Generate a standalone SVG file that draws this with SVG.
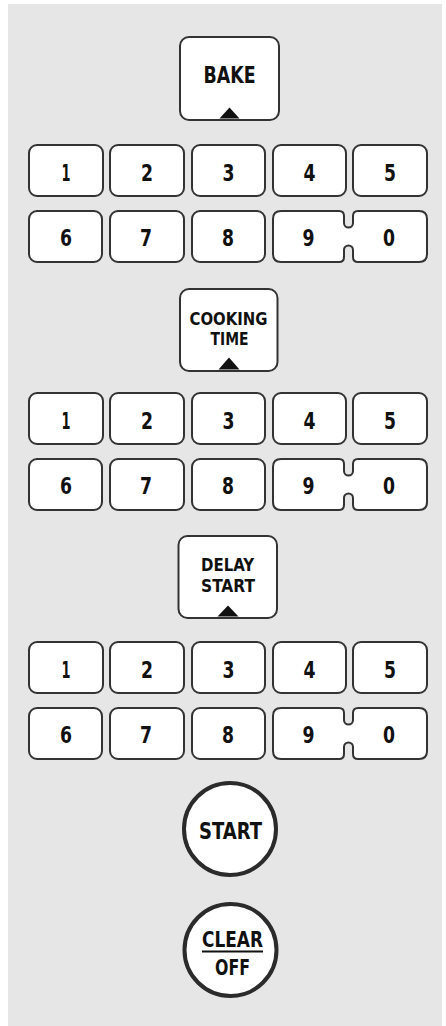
<svg xmlns="http://www.w3.org/2000/svg" xmlns:xlink="http://www.w3.org/1999/xlink" width="446" height="1026" viewBox="0 0 446 1026">
<style>
.bg{fill:#e6e6e6}
.key{fill:#fff;stroke:#333;stroke-width:2}
.fn{fill:#fff;stroke:#333;stroke-width:2}
.round{fill:#fff;stroke:#2b2b2b;stroke-width:4}
.tri{fill:#111}
text{font-family:"DejaVu Sans Condensed","Liberation Sans Narrow","Liberation Sans",sans-serif;font-weight:bold;fill:#111;text-anchor:middle}
.d{font-size:23.5px}
</style>
<defs>
<g id="pad">
<g><rect class="key" x="29" y="0" width="74" height="51" rx="8"/><text class="d" x="66" y="35.5" textLength="9" lengthAdjust="spacingAndGlyphs">1</text></g>
<g><rect class="key" x="110" y="0" width="74" height="51" rx="8"/><text class="d" x="147" y="35.5" textLength="12" lengthAdjust="spacingAndGlyphs">2</text></g>
<g><rect class="key" x="192" y="0" width="73" height="51" rx="8"/><text class="d" x="228.5" y="35.5" textLength="12" lengthAdjust="spacingAndGlyphs">3</text></g>
<g><rect class="key" x="273" y="0" width="73" height="51" rx="8"/><text class="d" x="309.5" y="35.5" textLength="12" lengthAdjust="spacingAndGlyphs">4</text></g>
<g><rect class="key" x="353" y="0" width="74" height="51" rx="8"/><text class="d" x="390" y="35.5" textLength="12" lengthAdjust="spacingAndGlyphs">5</text></g>
<g><rect class="key" x="29" y="66" width="73" height="51" rx="8"/><text class="d" x="66" y="101" textLength="12" lengthAdjust="spacingAndGlyphs">6</text></g>
<g><rect class="key" x="110" y="66" width="74" height="51" rx="8"/><text class="d" x="146" y="101" textLength="12" lengthAdjust="spacingAndGlyphs">7</text></g>
<g><rect class="key" x="192" y="66" width="73" height="51" rx="8"/><text class="d" x="228" y="101" textLength="12" lengthAdjust="spacingAndGlyphs">8</text></g>
<g><path class="key" d="M281,66 H339 Q344,66 344,71 V78 A4.5 4.5 0 0 0 353,78 V71 Q353,66 358,66 H419 Q427,66 427,74 V109 Q427,117 419,117 H358 Q353,117 353,112 V105 A4.5 4.5 0 0 0 344,105 V112 Q344,117 339,117 H281 Q273,117 273,109 V74 Q273,66 281,66 Z"/><text class="d" x="308.5" y="101" textLength="12" lengthAdjust="spacingAndGlyphs">9</text><text class="d" x="389" y="101" textLength="12" lengthAdjust="spacingAndGlyphs">0</text></g>
</g>
</defs>
<rect class="bg" x="8" y="4" width="434" height="1022"/>
<g id="connectors"/>
<g id="bake">
<rect class="fn" x="180" y="37" width="99" height="83" rx="9"/>
<text x="229.5" y="83" font-size="23.5" textLength="52" lengthAdjust="spacingAndGlyphs">BAKE</text>
<path class="tri" d="M219.5,118.5 L229.5,107.5 L239.5,118.5 Z"/>
</g>
<g id="keypad-bake" transform="translate(0,145)"><use xlink:href="#pad"/></g>
<g id="cooking-time">
<rect class="fn" x="180" y="289" width="97.5" height="82" rx="9"/>
<text x="228.5" y="324.5" font-size="18" textLength="78" lengthAdjust="spacingAndGlyphs">COOKING</text>
<text x="229.5" y="345" font-size="18" textLength="38" lengthAdjust="spacingAndGlyphs">TIME</text>
<path class="tri" d="M218.5,369.5 L229,357.5 L239.5,369.5 Z"/>
</g>
<g id="keypad-cooking-time" transform="translate(0,393)"><use xlink:href="#pad"/></g>
<g id="delay-start">
<rect class="fn" x="178.5" y="536" width="98.5" height="82" rx="9"/>
<text x="227.5" y="570.5" font-size="18" textLength="53" lengthAdjust="spacingAndGlyphs">DELAY</text>
<text x="228" y="592" font-size="18" textLength="54" lengthAdjust="spacingAndGlyphs">START</text>
<path class="tri" d="M217.5,616.5 L228,605.5 L238.5,616.5 Z"/>
</g>
<g id="keypad-delay-start" transform="translate(0,642)"><use xlink:href="#pad"/></g>
<g id="start">
<circle class="round" cx="230" cy="829" r="46"/>
<text x="230.5" y="838.5" font-size="22.5" textLength="63" lengthAdjust="spacingAndGlyphs">START</text>
</g>
<g id="clear-off">
<circle class="round" cx="230.5" cy="950" r="46"/>
<text x="232.5" y="947" font-size="22" textLength="61" lengthAdjust="spacingAndGlyphs">CLEAR</text>
<rect x="202" y="950.5" width="61" height="2" fill="#111"/>
<text x="232.5" y="975" font-size="22" textLength="35" lengthAdjust="spacingAndGlyphs">OFF</text>
</g>
</svg>
